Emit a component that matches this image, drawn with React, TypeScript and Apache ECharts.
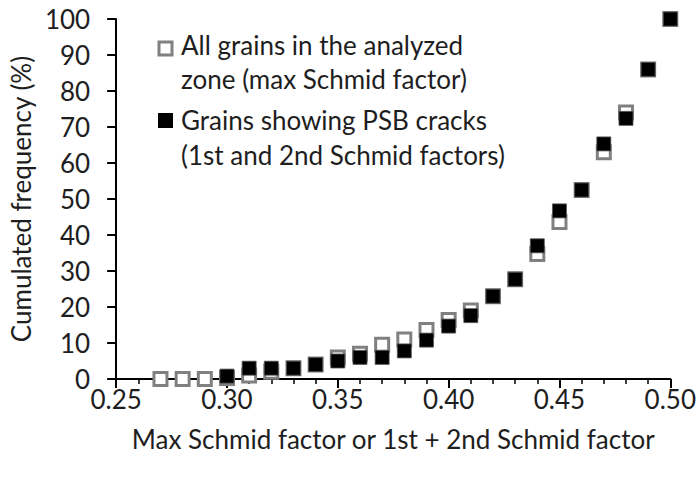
import React, { useEffect, useRef } from "react";
import * as echarts from "echarts";

const xValues = [0.27, 0.28, 0.29, 0.30, 0.31, 0.32, 0.33, 0.34, 0.35, 0.36, 0.37, 0.38, 0.39, 0.40, 0.41, 0.42, 0.43, 0.44, 0.45, 0.46, 0.47, 0.48, 0.49, 0.50];
const allGrains = [0, 0, 0, 0.3, 1, 2, 3, 4, 6, 7, 9.5, 11, 13.6, 16.4, 19, 23, 27.7, 34.7, 43.6, 52.5, 63, 74, 86, 100];
const psbX = [0.30, 0.31, 0.32, 0.33, 0.34, 0.35, 0.36, 0.37, 0.38, 0.39, 0.40, 0.41, 0.42, 0.43, 0.44, 0.45, 0.46, 0.47, 0.48, 0.49, 0.50];
const psbCracks = [0.8, 3, 3, 3, 4, 5, 6, 6, 7.8, 10.8, 14.7, 17.6, 23, 27.7, 37, 46.7, 52.5, 65.3, 72.4, 86, 100];

const legendLine1 = ["All grains in the analyzed", "zone (max Schmid factor)"];
const legendLine2 = ["Grains showing PSB cracks", "(1st and 2nd Schmid factors)"];
const xTitle = "Max Schmid factor or 1st + 2nd Schmid factor";
const yTitle = "Cumulated frequency (%)";

const FONT = "Lato";
const TXT = "#1e1e1e";
const FS = 26;

export default function App() {
  const ref = useRef<HTMLDivElement>(null);
  useEffect(() => {
    if (!ref.current) return;
    const chart = echarts.init(ref.current, null, { renderer: "svg" });
    chart.setOption({
      animation: false,
      textStyle: { fontFamily: FONT },
      grid: { left: 107, right: 27, top: 19, bottom: 98 },
      xAxis: {
        type: "value",
        min: 0.25,
        max: 0.5,
        interval: 0.05,
        name: xTitle,
        nameLocation: "middle",
        nameGap: 47,
        nameTextStyle: { fontFamily: FONT, fontSize: FS, color: TXT },
        axisLine: { lineStyle: { color: "#000", width: 2 } },
        axisTick: { show: true, length: 9, lineStyle: { color: "#000", width: 2 } },
        minorTick: { show: true, splitNumber: 5, length: 5, lineStyle: { color: "#000", width: 1.5 } },
        splitLine: { show: false },
        axisLabel: {
          fontFamily: FONT,
          fontSize: FS,
          color: TXT,
          margin: 7,
          formatter: (v: number) => v.toFixed(2),
        },
      },
      yAxis: {
        type: "value",
        min: 0,
        max: 100,
        interval: 10,
        name: yTitle,
        nameLocation: "middle",
        nameGap: 66,
        nameRotate: 90,
        nameTextStyle: { fontFamily: FONT, fontSize: FS, color: TXT },
        axisLine: { show: true, lineStyle: { color: "#000", width: 2 } },
        axisTick: { show: true, length: 9, lineStyle: { color: "#000", width: 2 } },
        splitLine: { show: false },
        axisLabel: { fontFamily: FONT, fontSize: FS, color: TXT, margin: 26 },
      },
      series: [
        {
          name: "all",
          type: "scatter",
          symbol: "rect",
          symbolSize: 13,
          data: xValues.map((x, i) => [x, allGrains[i]]),
          itemStyle: { color: "#fff", borderColor: "#808080", borderWidth: 3, opacity: 1 },
          z: 2,
        },
        {
          name: "psb",
          type: "scatter",
          symbol: "rect",
          symbolSize: 14,
          data: psbX.map((x, i) => [x, psbCracks[i]]),
          itemStyle: { color: "#000", borderColor: "#555", borderWidth: 0.8, opacity: 1 },
          z: 3,
        },
      ],
      graphic: [
        { type: "rect", shape: { x: 159, y: 42, width: 13, height: 13 }, style: { fill: "#fff", stroke: "#808080", lineWidth: 3 } },
        { type: "text", x: 181, y: 45, style: { text: legendLine1[0], font: `${FS}px ${FONT}`, fill: TXT, verticalAlign: "middle" } },
        { type: "text", x: 181, y: 79, style: { text: legendLine1[1], font: `${FS}px ${FONT}`, fill: TXT, verticalAlign: "middle" } },
        { type: "rect", shape: { x: 158, y: 113, width: 15, height: 15 }, style: { fill: "#000" } },
        { type: "text", x: 181, y: 120, style: { text: legendLine2[0], font: `${FS}px ${FONT}`, fill: TXT, verticalAlign: "middle" } },
        { type: "text", x: 181, y: 155, style: { text: legendLine2[1], font: `${FS}px ${FONT}`, fill: TXT, verticalAlign: "middle" } },
      ],
    });
    return () => chart.dispose();
  }, []);
  return <div ref={ref} style={{ width: 699, height: 477, position: "absolute", left: 0, top: 0 }} />;
}
